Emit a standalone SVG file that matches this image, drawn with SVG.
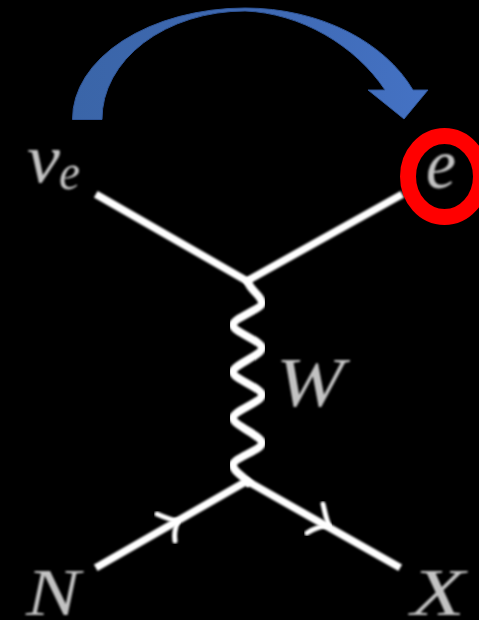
<svg xmlns="http://www.w3.org/2000/svg" width="479" height="620" viewBox="0 0 479 620">
  <defs>
    <filter id="soft" x="-10%" y="-10%" width="120%" height="120%"><feGaussianBlur stdDeviation="0.8"/></filter>
    <linearGradient id="blue" gradientUnits="userSpaceOnUse" x1="72" y1="0" x2="428" y2="0">
      <stop offset="0" stop-color="#3a65a8"/><stop offset="0.5" stop-color="#3f69b2"/><stop offset="1" stop-color="#4472c4"/>
    </linearGradient>
  </defs>
  <style>
    .line { fill: none; stroke: #fff; stroke-width: 7.500; stroke-linecap: square; stroke-linejoin: round; filter: url(#soft); }
    .barb { fill: none; stroke: #fff; stroke-width: 5; stroke-linecap: round; filter: url(#soft); }
    .label { font-family: "Liberation Serif", "Times New Roman", serif; font-style: italic; fill: #c2c2c2; filter: url(#soft); }
  </style>
  <rect width="479" height="620" fill="#000"/>
  <g id="connectors">
    <path class="line" d="M99 196 L247 281 L399 196"/>
    <path class="line" d="M99 566 L247 481 L397 566"/>
    <path class="line" style="stroke-width:8" d="M248 282 C250 290 262 296 262 303 C262 309 233 318 233 325 C233 332 262 341 262 348 C262 355 233 365 233 372 C233 379 262 388 262 395 C262 402 233 411 233 418 C233 425 262 436 262 443 C262 450 233 458 233 465 C233 471 243 476 248 482"/>
    <path class="barb" d="M157 514 C166 518 172 520 178 521 C175 528 174 535 175 541"/>
    <path class="barb" d="M323 504 C325 512 326 519 329 525 C321 526 313 529 307 533"/>
    <path id="hop" fill="url(#blue)" stroke="#2f5597" stroke-width="1" d="M72.500 119.500 A173 111 0 0 1 245 8 C320 8 385 42 413 90 L428 90 L404 119 L368 90 L385 90 C355 45 300 13 245 11 A143 108 0 0 0 102 119.500 Z"/>
  </g>
  <g id="node-nu">
    <text class="label" x="27" y="182" font-size="70" textLength="33" lengthAdjust="spacingAndGlyphs">ν</text>
    <text class="label" x="59" y="189" font-size="50" textLength="21" lengthAdjust="spacingAndGlyphs">e</text>
  </g>
  <g id="node-e">
    <text class="label" x="426" y="188" font-size="72" textLength="30" lengthAdjust="spacingAndGlyphs">e</text>
    <ellipse cx="444.500" cy="176.500" rx="36.500" ry="40.500" fill="none" stroke="#f00" stroke-width="16"/>
  </g>
  <g id="node-w">
    <text class="label" x="276" y="406" font-size="70" textLength="68" lengthAdjust="spacingAndGlyphs">W</text>
  </g>
  <g id="node-n">
    <text class="label" x="26" y="615" font-size="68" textLength="54" lengthAdjust="spacingAndGlyphs">N</text>
  </g>
  <g id="node-x">
    <text class="label" x="411" y="615" font-size="68" textLength="54" lengthAdjust="spacingAndGlyphs">X</text>
  </g>
</svg>
